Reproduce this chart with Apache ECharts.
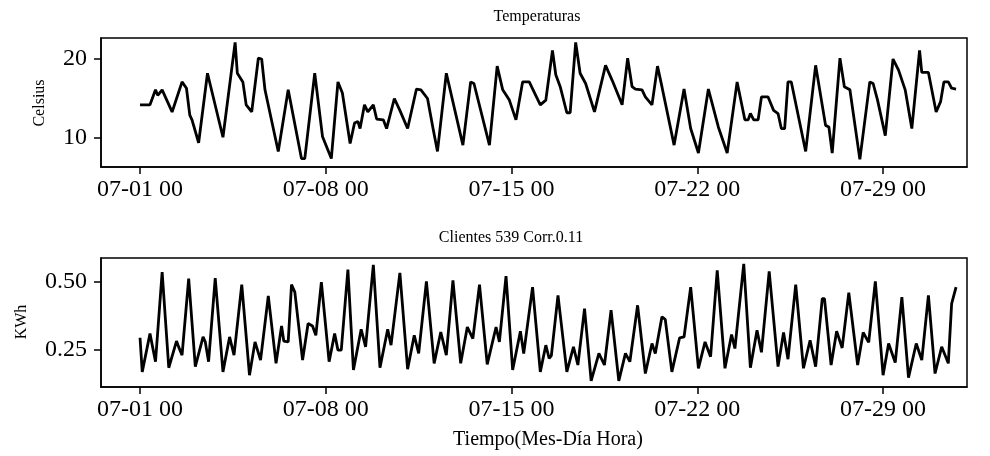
<!DOCTYPE html>
<html>
<head>
<meta charset="utf-8">
<script src="https://cdn.jsdelivr.net/npm/echarts@6/dist/echarts.min.js"></script>
<style>
  html, body { margin: 0; padding: 0; background: #fff; }
  #chart { width: 990px; height: 456px; }
</style>
</head>
<body>
<div id="chart"></div>
<script>
// Hours since 07-01 00:00 and the matching readings
const tempHours = [0, 9, 14, 16, 20, 29, 38, 42, 45, 47, 53, 61, 75, 86, 88, 93, 96, 101, 107, 110, 113, 125, 134, 146, 149,
  158, 165, 173, 179, 183, 190, 194, 197, 199, 203, 206, 211, 214, 220, 223, 230, 235, 242, 250, 254, 260, 265, 269, 277,
  292, 299, 302, 316, 323, 328, 334, 340, 346, 352, 362, 367, 373, 376, 380, 386, 389, 394, 398, 403, 411, 421, 427, 436,
  441, 445, 448, 454, 457, 463, 468, 472, 483, 492, 498, 505, 514, 523, 531, 540, 547, 550, 552, 555, 559, 562, 568, 573,
  577, 580, 583, 586, 589, 602, 611, 620, 623, 626, 633, 637, 642, 651, 660, 663, 667, 674, 681, 686, 692, 698, 705, 707,
  713, 720, 724, 727, 731, 734, 738];
const tempValues = [14.2, 14.2, 16.1, 15.4, 16.1, 13.3, 17.1, 16.3, 12.9, 12.3, 9.4, 18.2, 10.1, 22.1, 18.2, 17.1, 14.2, 13.3, 20.1, 20.0, 16.1, 8.3, 16.1, 7.4, 7.4,
  18.2, 10.2, 7.4, 17.1, 15.7, 9.3, 11.9, 12.1, 11.2, 14.2, 13.3, 14.2, 12.4, 12.3, 11.2, 15.0, 13.5, 11.2, 16.2, 16.1, 15.0, 11.2, 8.3, 18.2,
  9.1, 17.1, 16.9, 9.1, 19.1, 16.1, 14.8, 12.3, 17.1, 17.1, 14.2, 14.8, 21.1, 18.0, 16.5, 13.2, 13.2, 22.1, 18.2, 16.9, 13.3, 19.2, 17.3, 14.2,
  20.1, 16.5, 16.2, 16.1, 15.2, 14.2, 19.1, 16.5, 9.1, 16.2, 11.2, 8.1, 16.2, 11.4, 8.1, 17.1, 12.3, 12.3, 13.1, 12.3, 12.3, 15.2, 15.2, 13.5,
  13.1, 11.2, 11.2, 17.1, 17.1, 8.3, 19.2, 11.6, 11.4, 8.1, 20.1, 16.5, 16.1, 7.3, 17.1, 16.9, 14.8, 10.3, 20.0, 18.6, 16.1, 11.2, 21.1, 18.3,
  18.3, 13.3, 14.6, 17.1, 17.1, 16.3, 16.2];

const loadHours = [0, 2, 9, 14, 20, 26, 33, 35, 38, 44, 50, 57, 59, 62, 68, 75, 81, 85, 92, 99, 104, 109, 116, 123, 128, 130, 134,
  137, 140, 147, 152, 156, 159, 164, 171, 176, 179, 182, 188, 193, 200, 204, 211, 217, 224, 227, 235, 242, 248, 252, 259,
  266, 272, 277, 283, 290, 296, 301, 307, 314, 322, 325, 331, 337, 344, 347, 355, 362, 367, 370, 372, 378, 386, 392, 396,
  402, 408, 415, 420, 426, 433, 439, 443, 450, 457, 463, 466, 472, 475, 481, 488, 492, 498, 505, 511, 516, 522, 529, 535,
  538, 546, 552, 558, 562, 569, 577, 582, 586, 593, 600, 606, 611, 617, 619, 625, 630, 635, 641, 649, 654, 659, 665, 672,
  677, 683, 689, 695, 702, 707, 713, 719, 725, 731, 734, 738];
const loadValues = [0.295, 0.171, 0.31, 0.208, 0.534, 0.186, 0.283, 0.261, 0.232, 0.51, 0.19, 0.298, 0.28, 0.208, 0.512, 0.171, 0.298, 0.232, 0.488, 0.159, 0.28, 0.214, 0.447, 0.202, 0.338, 0.283, 0.28,
  0.488, 0.461, 0.214, 0.347, 0.338, 0.304, 0.497, 0.208, 0.31, 0.25, 0.25, 0.543, 0.178, 0.326, 0.262, 0.56, 0.186, 0.326, 0.268, 0.531, 0.181, 0.304, 0.238, 0.5,
  0.202, 0.316, 0.232, 0.504, 0.202, 0.334, 0.292, 0.488, 0.198, 0.334, 0.28, 0.519, 0.178, 0.319, 0.238, 0.479, 0.171, 0.268, 0.22, 0.23, 0.449, 0.171, 0.262, 0.196,
  0.401, 0.138, 0.238, 0.196, 0.395, 0.138, 0.238, 0.208, 0.413, 0.165, 0.274, 0.238, 0.371, 0.362, 0.171, 0.295, 0.298, 0.479, 0.184, 0.28, 0.226, 0.54, 0.184, 0.307,
  0.256, 0.564, 0.186, 0.322, 0.242, 0.536, 0.19, 0.314, 0.217, 0.488, 0.184, 0.286, 0.19, 0.437, 0.437, 0.196, 0.319, 0.258, 0.459, 0.196, 0.314, 0.278, 0.5, 0.159,
  0.274, 0.205, 0.443, 0.15, 0.274, 0.214, 0.449, 0.165, 0.262, 0.202, 0.419, 0.479];

// Axis ticks
const xTickHours = [0, 168, 336, 504, 672];
const xTickLabels = ['07-01 00', '07-08 00', '07-15 00', '07-22 00', '07-29 00'];
const tempTicks = [10, 20];
const loadTicks = [0.25, 0.50];

const FONT = '"Liberation Serif", "DejaVu Serif", serif';
const INK = '#000';

function pairs(xs, ys) { return xs.map((x, i) => [x, ys[i]]); }

function xAxisFor(gridIndex) {
  return {
    type: 'value', gridIndex, min: -35.3, max: 747.9,
    axisLine: { show: true, onZero: false, lineStyle: { color: INK, width: 1.5 } },
    axisTick: { show: true, customValues: xTickHours, length: 7, lineStyle: { color: INK, width: 1.5 } },
    axisLabel: {
      customValues: xTickHours, margin: 11, color: INK, fontSize: 24, fontFamily: FONT,
      formatter: v => xTickLabels[xTickHours.indexOf(v)] || ''
    },
    splitLine: { show: false }
  };
}

function yAxisFor(gridIndex, min, max, ticks, fmt) {
  return {
    type: 'value', gridIndex, min, max,
    axisLine: { show: true, onZero: false, lineStyle: { color: INK, width: 1.5 } },
    axisTick: { show: true, customValues: ticks, length: 7, lineStyle: { color: INK, width: 1.5 } },
    axisLabel: { customValues: ticks, margin: 14, color: INK, fontSize: 24, fontFamily: FONT, formatter: fmt },
    splitLine: { show: false }
  };
}

function label(text, x, y, size, rot) {
  return {
    type: 'text', x, y, rotation: rot || 0,
    style: { text, fill: INK, font: size + 'px ' + FONT, textAlign: 'center', textVerticalAlign: 'middle' }
  };
}

const chart = echarts.init(document.getElementById('chart'), null, { renderer: 'canvas' });
chart.setOption({
  animation: false,
  backgroundColor: '#fff',
  grid: [
    { left: 101, right: 23, top: 38, height: 129, show: true, borderColor: INK, borderWidth: 1.5 },
    { left: 101, right: 23, top: 258, height: 129, show: true, borderColor: INK, borderWidth: 1.5 }
  ],
  xAxis: [xAxisFor(0), xAxisFor(1)],
  yAxis: [
    yAxisFor(0, 6.33, 22.66, tempTicks, v => String(v)),
    yAxisFor(1, 0.116, 0.585, loadTicks, v => v.toFixed(2))
  ],
  series: [
    {
      type: 'line', xAxisIndex: 0, yAxisIndex: 0, data: pairs(tempHours, tempValues),
      showSymbol: false, lineStyle: { color: INK, width: 2.8 }
    },
    {
      type: 'line', xAxisIndex: 1, yAxisIndex: 1, data: pairs(loadHours, loadValues),
      showSymbol: false, lineStyle: { color: INK, width: 2.8 }
    }
  ],
  graphic: [
    label('Temperaturas', 537, 17, 16),
    label('Clientes 539 Corr.0.11', 511, 238, 16),
    label('Celsius', 40, 103, 16, Math.PI / 2),
    label('KWh', 22, 322, 16, Math.PI / 2),
    label('Tiempo(Mes-Día Hora)', 548, 440, 20)
  ]
});
</script>
</body>
</html>
